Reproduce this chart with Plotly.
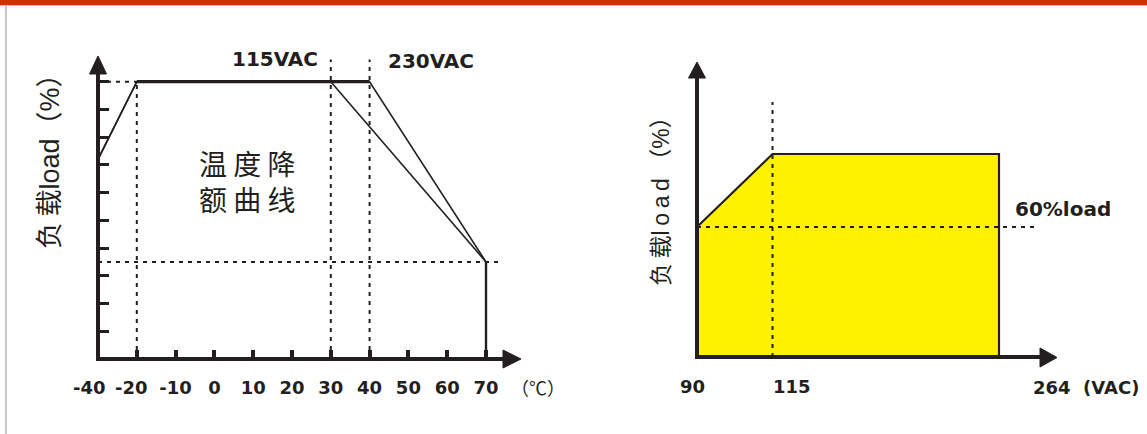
import plotly.graph_objects as go

W, H = 1147, 434
INK = "#231f20"
YELLOW = "#fff200"

# ---------------- data ----------------
temp_cats = ["-40", "-20", "-10", "0", "10", "20", "30", "40", "50", "60", "70"]
# the first two labels sit a little left of their ticks in the original,
# so they are placed as annotations below
temp_ticktext = ["", "", "-10", "0", "10", "20", "30", "40", "50", "60", "70"]
load_ticks = [10, 20, 30, 40, 50, 60, 70, 80, 90, 100]

curve115_t = ["-40", "-20", "30", "70"]
curve115_load = [72, 100, 100, 35]
curve230_t = ["-40", "-20", "40", "70"]
curve230_load = [72, 100, 100, 35]
plateau_t = ["-20", "40"]
plateau_load = [100, 100]
cutoff_t = ["70", "70"]
cutoff_load = [35, 0]

vac_cats = ["90", "115", "_a", "_b", "264"]
vac_in = ["90", "115", "264", "264"]
vac_load = [64, 100, 100, 0]
low_line_load = 64

# ---------------- helpers (pixel -> paper) ----------------
def X(px):
    return px / W

def Y(py):
    return 1 - py / H

def ti(c):
    return temp_cats.index(c)

def vi(c):
    return vac_cats.index(c)

fig = go.Figure()

# left chart traces
fig.add_trace(go.Scatter(x=curve115_t, y=curve115_load, mode="lines",
                         line=dict(color=INK, width=1.6), xaxis="x", yaxis="y",
                         showlegend=False, hoverinfo="skip"))
fig.add_trace(go.Scatter(x=curve230_t, y=curve230_load, mode="lines",
                         line=dict(color=INK, width=1.6), xaxis="x", yaxis="y",
                         showlegend=False, hoverinfo="skip"))
fig.add_trace(go.Scatter(x=plateau_t, y=plateau_load, mode="lines",
                         line=dict(color=INK, width=3.2), xaxis="x", yaxis="y",
                         showlegend=False, hoverinfo="skip"))
fig.add_trace(go.Scatter(x=cutoff_t, y=cutoff_load, mode="lines",
                         line=dict(color=INK, width=2.4), xaxis="x", yaxis="y",
                         showlegend=False, hoverinfo="skip"))

# right chart trace
fig.add_trace(go.Scatter(x=vac_in, y=vac_load, mode="lines", fill="tozeroy",
                         fillcolor=YELLOW, line=dict(color=INK, width=2.2),
                         xaxis="x2", yaxis="y2", showlegend=False, hoverinfo="skip"))

# ---------------- axes ----------------
lx_ppu, lx0 = 38.8, 98
ly_ppu, ly0 = 2.773, 359
rx_ppu, rx0 = 75.5, 697
ry_ppu, ry0 = 2.03, 357

dom_left_x = (70, 530)
dom_right_x = (670, 1090)
dom_y = (380, 40)

fig.update_layout(
    width=W, height=H, autosize=False,
    margin=dict(l=0, r=0, t=0, b=0),
    paper_bgcolor="white", plot_bgcolor="white",
    xaxis=dict(
        type="category", categoryorder="array", categoryarray=temp_cats,
        domain=[X(dom_left_x[0]), X(dom_left_x[1])],
        range=[(dom_left_x[0] - lx0) / lx_ppu, (dom_left_x[1] - lx0) / lx_ppu],
        anchor="free", position=Y(ly0),
        showgrid=False, zeroline=False, showline=False,
        tickmode="array", tickvals=temp_cats, ticktext=temp_ticktext,
        ticks="inside", ticklen=9, tickwidth=3.5, tickcolor=INK,
        tickangle=0,
        tickfont=dict(family="DejaVu Sans", size=18, color=INK, weight="bold"),
        ticklabelstandoff=16,
    ),
    yaxis=dict(
        domain=[Y(dom_y[0]), Y(dom_y[1])],
        range=[(ly0 - dom_y[0]) / ly_ppu, (ly0 - dom_y[1]) / ly_ppu],
        anchor="free", position=X(lx0),
        showgrid=False, zeroline=False, showline=False,
        tickmode="array", tickvals=load_ticks,
        ticks="inside", ticklen=10, tickwidth=3, tickcolor=INK,
        showticklabels=False,
    ),
    xaxis2=dict(
        type="category", categoryorder="array", categoryarray=vac_cats,
        domain=[X(dom_right_x[0]), X(dom_right_x[1])],
        range=[(dom_right_x[0] - rx0) / rx_ppu, (dom_right_x[1] - rx0) / rx_ppu],
        anchor="y2", showgrid=False, zeroline=False, showline=False,
        showticklabels=False, ticks="",
    ),
    yaxis2=dict(
        domain=[Y(dom_y[0]), Y(dom_y[1])],
        range=[(ry0 - dom_y[0]) / ry_ppu, (ry0 - dom_y[1]) / ry_ppu],
        anchor="x2", showgrid=False, zeroline=False, showline=False,
        showticklabels=False, ticks="",
    ),
)

shapes = []
dot = dict(color=INK, width=2, dash="4px,5px")

# left guide lines (data coordinates)
shapes += [
    dict(type="line", xref="x", yref="y", x0=0, x1=ti("-20"), y0=100, y1=100, line=dot),
    dict(type="line", xref="x", yref="y", x0=ti("-20"), x1=ti("-20"), y0=0, y1=100, line=dot),
    dict(type="line", xref="x", yref="y", x0=ti("30"), x1=ti("30"), y0=0, y1=108, line=dot),
    dict(type="line", xref="x", yref="y", x0=ti("40"), x1=ti("40"), y0=0, y1=108, line=dot),
    dict(type="line", xref="x", yref="y", x0=0, x1=10.36, y0=35, y1=35, line=dot),
]
# right guide lines
shapes += [
    dict(type="line", xref="x2", yref="y2", x0=vi("115"), x1=vi("115"), y0=0, y1=125.6, line=dot),
    dict(type="line", xref="x2", yref="y2", x0=0, x1=4.5, y0=low_line_load, y1=low_line_load, line=dot),
]

def pline(x0, y0, x1, y1, w, color=INK):
    return dict(type="line", xref="paper", yref="paper",
                x0=X(x0), y0=Y(y0), x1=X(x1), y1=Y(y1),
                line=dict(color=color, width=w), layer="above")

def tri(pts, color=INK):
    path = "M " + " L ".join(f"{X(a)},{Y(b)}" for a, b in pts) + " Z"
    return dict(type="path", xref="paper", yref="paper", path=path,
                fillcolor=color, line=dict(color=color, width=1), layer="above")

# axis lines and arrowheads
shapes += [
    pline(98, 74, 98, 361, 4),
    pline(96, 359, 505, 359, 4),
    tri([(89.5, 74), (98, 56), (106.5, 74)]),
    tri([(503, 350), (521, 359), (503, 368)]),
    pline(697, 78, 697, 359, 4),
    pline(695, 357, 1042, 357, 4),
    tri([(688.5, 78), (697, 62), (705.5, 78)]),
    tri([(1040, 348), (1057, 357.5), (1040, 367)]),
]

# page frame: top bar and left border
shapes += [
    dict(type="rect", xref="paper", yref="paper", x0=0, x1=1, y0=Y(5), y1=1,
         fillcolor="#cc3300", line=dict(width=0), layer="above"),
    pline(0, 5.5, W, 5.5, 1.2, "#c4c4c4"),
    pline(6, 6, 6, H, 2, "#c8c8c8"),
]

fig.update_layout(shapes=shapes)

bold = dict(family="DejaVu Sans", size=20, color=INK, weight="bold")
bold18 = dict(family="DejaVu Sans", size=18, color=INK, weight="bold")
cjk = "Liberation Sans, Noto Sans CJK SC"
TH = "\u2009"

def ann(text, px, py, font, **kw):
    d = dict(text=text, x=X(px), y=Y(py), xref="paper", yref="paper",
             showarrow=False, xanchor="center", yanchor="middle", font=font)
    d.update(kw)
    return d

annotations = [
    # first two temperature labels, anchored to their categories
    dict(text=temp_cats[0], x=ti("-40"), y=0, xref="x", yref="y", showarrow=False,
         xanchor="center", yanchor="middle", xshift=-9, yshift=-28, font=bold18),
    dict(text=temp_cats[1], x=ti("-20"), y=0, xref="x", yref="y", showarrow=False,
         xanchor="center", yanchor="middle", xshift=-5.5, yshift=-28, font=bold18),
    ann("115VAC", 274.5, 59.5, bold),
    ann("230VAC", 431, 60.5, bold),
    ann("温 度 降<br>额 曲 线", 247, 181,
        dict(family="Noto Sans CJK SC", size=28, color=INK)),
    ann("负" + TH + "载load（%）", 50, 155, dict(family=cjk, size=27, color=INK), textangle=-90),
    ann("负" + TH + "载l" + TH + "o" + TH + "a" + TH + "d （%）", 661, 196,
        dict(family=cjk, size=23, color=INK), textangle=-90),
    ann("（℃）", 538, 387, dict(family="Noto Sans CJK SC", size=18, color=INK)),
    ann("90", 692, 386, bold18),
    ann("115", 792, 386, bold18),
    ann("264\u00a0\u00a0(VAC)", 1086, 387, bold18),
    ann("60%load", 1063, 209, bold),
]
fig.update_layout(annotations=annotations)

fig.write_html("out.html", config={"displayModeBar": False},
               post_script="document.body.style.margin='0';")
